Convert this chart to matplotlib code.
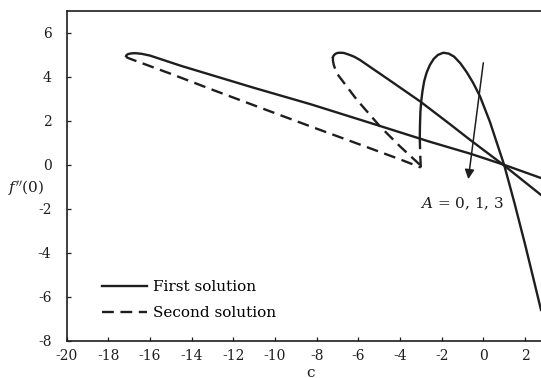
import matplotlib
matplotlib.use("Agg")
import matplotlib.pyplot as plt
from matplotlib.lines import Line2D

plt.rcParams['font.family'] = ['DejaVu Serif']
plt.rcParams['mathtext.fontset'] = 'dejavuserif'
plt.rcParams['axes.unicode_minus'] = False

# A = 0
c_a0_first = [-17.15, -17.12, -17.05, -16.9, -16.7, -16.4, -16.0, -14.5, -13.1, -11.0, -8.3,
              -5.0, -2.6, -0.6, 1.0, 2.77]
f_a0_first = [4.95, 5.0, 5.04, 5.07, 5.08, 5.05, 4.97, 4.5, 4.1, 3.5, 2.76,
              1.78, 1.06, 0.5, 0.0, -0.6]
c_a0_second = [-17.15, -17.1, -17.0, -15.0, -13.1, -10.0, -8.3, -6.0, -4.0, -3.0]
f_a0_second = [4.95, 4.88, 4.84, 4.14, 3.45, 2.35, 1.75, 0.95, 0.25, -0.12]

# A = 1
c_a1_first = [-7.22, -7.18, -7.1, -7.0, -6.88, -6.7, -6.5, -6.2, -5.92, -4.32, -3.04,
              -1.6, -0.64, 0.96, 2.77]
f_a1_first = [4.9, 4.98, 5.05, 5.09, 5.1, 5.09, 5.03, 4.92, 4.77, 3.73, 2.89,
              1.85, 1.14, 0.0, -1.37]
c_a1_second = [-7.22, -7.22, -7.18, -7.1, -7.0, -6.6, -6.08, -4.96, -4.0, -3.04, -2.96]
f_a1_second = [4.9, 4.75, 4.55, 4.33, 4.12, 3.62, 2.97, 1.75, 0.84, 0.0, -0.15]

# A = 3
c_a3_first = [-3.05, -3.04, -3.02, -2.98, -2.92, -2.84, -2.72, -2.56, -2.38, -2.18, -1.92,
              -1.66, -1.4, -1.1, -0.8, -0.5, -0.16, 0.32, 0.72, 1.0, 1.5, 2.0, 2.4, 2.77]
f_a3_first = [1.25, 1.8, 2.4, 2.9, 3.35, 3.8, 4.2, 4.55, 4.82, 5.0, 5.1,
              5.06, 4.92, 4.62, 4.22, 3.75, 3.12, 1.95, 0.8, 0.0, -1.75, -3.6, -5.15, -6.6]
c_a3_second = [-3.05, -3.03, -3.0]
f_a3_second = [1.25, 0.5, -0.12]

x_ticks = [-20, -18, -16, -14, -12, -10, -8, -6, -4, -2, 0, 2]
y_ticks = [-8, -6, -4, -2, 0, 2, 4, 6]

col = '#1e1e1e'
dash = (0, (5, 2.8))
lw = 1.7

fig = plt.figure(figsize=(5.41, 3.78), dpi=100)
ax = fig.add_axes([0.1233, 0.0987, 0.8767, 0.8723])

ax.plot(c_a0_first, f_a0_first, color=col, lw=lw)
ax.plot(c_a1_first, f_a1_first, color=col, lw=lw)
ax.plot(c_a3_first, f_a3_first, color=col, lw=lw)
ax.plot(c_a0_second, f_a0_second, color=col, lw=lw, linestyle=dash)
ax.plot(c_a1_second, f_a1_second, color=col, lw=lw, linestyle=dash)
ax.plot(c_a3_second, f_a3_second, color=col, lw=lw, linestyle=dash)

# arrow showing increasing A
ax.annotate('', xy=(-0.72, -0.65), xytext=(0.0, 4.64),
            arrowprops=dict(arrowstyle='-|>', color=col, lw=1.1,
                            mutation_scale=14, shrinkA=0, shrinkB=0))
ax.text(-1.04, -1.75, r'$A$ = 0, 1, 3', fontsize=11, ha='center', va='center', color=col)

ax.set_xlim(-20, 2.77)
ax.set_ylim(-8, 7)
ax.set_xticks(x_ticks)
ax.set_yticks(y_ticks)
ax.tick_params(direction='in', length=3, width=0.9, labelsize=10, colors=col)
ax.tick_params(axis='x', pad=6)
ax.tick_params(axis='y', pad=11)
for s in ['left', 'bottom', 'top']:
    ax.spines[s].set_linewidth(1.2)
    ax.spines[s].set_color(col)
ax.spines['right'].set_visible(False)

# x label sits right at the bottom edge, nudged up so it stays visible
ax.set_xlabel('c', fontsize=11, color=col)
ax.xaxis.set_label_coords(0.514, -0.077)
ax.xaxis.label.set_va('top')
ax.set_ylabel(r"$f''(0)$", fontsize=11, rotation=0, color=col)
ax.yaxis.set_label_coords(-0.086, 0.466)
ax.yaxis.label.set_ha('center')
ax.yaxis.label.set_va('center')

handles = [Line2D([], [], color=col, lw=lw),
           Line2D([], [], color=col, lw=lw, linestyle=dash)]
ax.legend(handles, ['First solution', 'Second solution'], loc='upper left',
          bbox_to_anchor=(0.0744, 0.183), frameon=False, fontsize=11,
          handlelength=2.95, handletextpad=0.4, borderpad=0, borderaxespad=0,
          labelspacing=0.78)

fig.savefig('out.png', dpi=100)
